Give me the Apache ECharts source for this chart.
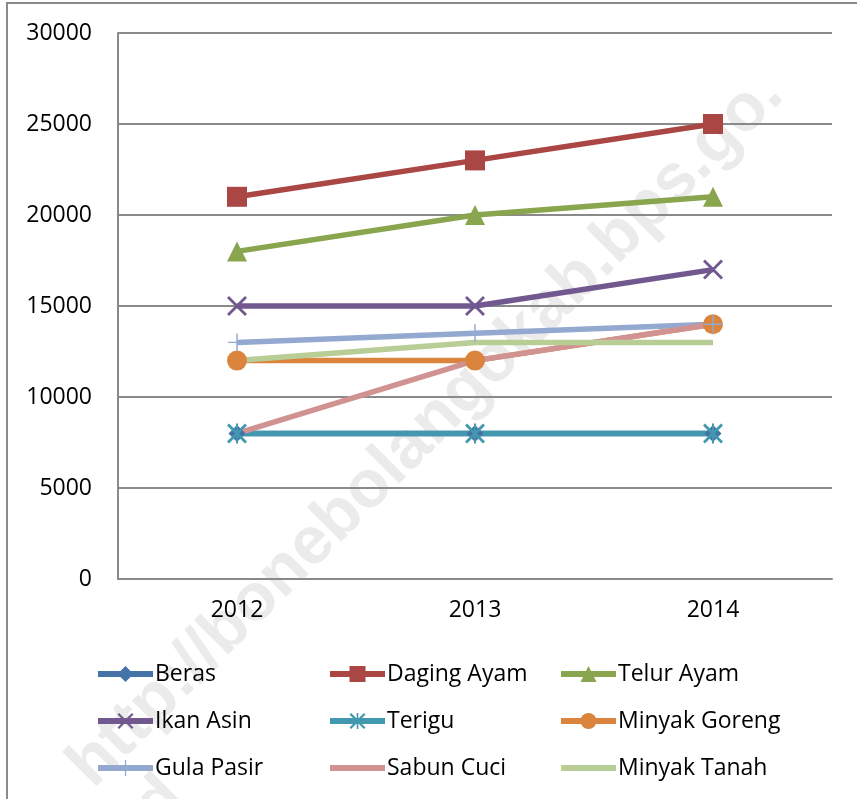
<!DOCTYPE html>
<html>
<head>
<meta charset="utf-8">
<script src="https://cdn.jsdelivr.net/npm/echarts@6/dist/echarts.min.js"></script>
<style>
  html, body { margin: 0; padding: 0; background: #fff; }
  #chart { width: 857px; height: 799px; }
</style>
</head>
<body>
<div id="chart"></div>
<script>
// data
const years = ['2012', '2013', '2014']
const beras = [8000, 8000, 8000]
const dagingAyam = [21000, 23000, 25000]
const telurAyam = [18000, 20000, 21000]
const ikanAsin = [15000, 15000, 17000]
const terigu = [8000, 8000, 8000]
const minyakGoreng = [12000, 12000, 14000]
const gulaPasir = [13000, 13500, 14000]
const sabunCuci = [8000, 12000, 14000]
const minyakTanah = [12000, 13000, 13000]

const FONT = '"Open Sans", sans-serif'

// custom marker shapes (Excel style x, asterisk, plus)
const X_PATH = 'path://M0,1L1,0L10,9L9,10ZM9,0L10,1L1,10L0,9Z'
const STAR_PATH = 'path://M0,1L1,0L10,9L9,10ZM9,0L10,1L1,10L0,9ZM4.5,0L5.5,0L5.5,10L4.5,10Z'
const PLUS_PATH = 'path://M4.6,0L5.4,0L5.4,10L4.6,10ZM0,4.6L10,4.6L10,5.4L0,5.4Z'

function mk(name, data, color, symbol, size) {
  return {
    name: name,
    type: 'line',
    data: data,
    symbol: symbol,
    symbolSize: size,
    showSymbol: symbol !== 'none',
    lineStyle: { color: color, width: 5.5 },
    itemStyle: { color: color },
    emphasis: { disabled: true },
  }
}

const seriesList = [
  mk('Beras', beras, '#4572A7', 'diamond', 17),
  mk('Daging Ayam', dagingAyam, '#AA4643', 'rect', 20),
  mk('Telur Ayam', telurAyam, '#89A54E', 'triangle', 20),
  mk('Ikan Asin', ikanAsin, '#71588F', X_PATH, 20),
  mk('Terigu', terigu, '#4198AF', STAR_PATH, 20),
  mk('Minyak Goreng', minyakGoreng, '#DB843D', 'circle', 20),
  mk('Gula Pasir', gulaPasir, '#93A9CF', PLUS_PATH, 18),
  mk('Sabun Cuci', sabunCuci, '#D19392', 'none', 0),
  mk('Minyak Tanah', minyakTanah, '#B9CD96', 'none', 0),
]

const noMarker = ['Sabun Cuci', 'Minyak Tanah']

function legendCol(left, names) {
  return {
    orient: 'vertical',
    left: left,
    top: 662,
    padding: 0,
    itemWidth: 55,
    itemHeight: 20,
    itemGap: 23,
    selectedMode: false,
    lineStyle: { width: 6 },
    data: names.map(n => noMarker.includes(n) ? { name: n, itemStyle: { opacity: 0 } } : n),
    textStyle: { fontFamily: FONT, fontSize: 23, color: '#000', lineHeight: 24, padding: [0, 0, 0, -3] },
  }
}

const chart = echarts.init(document.getElementById('chart'))
chart.setOption({
  animation: false,
  backgroundColor: '#fff',
  grid: { left: 118, right: 25, top: 33, bottom: 220 },
  xAxis: {
    type: 'category',
    data: years,
    boundaryGap: true,
    axisLine: { show: true, lineStyle: { color: '#8a8a8a', width: 2 } },
    axisTick: { show: false },
    axisLabel: { fontFamily: FONT, fontSize: 23, color: '#000', margin: 20 },
  },
  yAxis: {
    type: 'value',
    min: 0,
    max: 30000,
    interval: 5000,
    axisLine: { show: true, lineStyle: { color: '#8a8a8a', width: 2 } },
    axisTick: { show: false },
    splitLine: { lineStyle: { color: '#8a8a8a', width: 2 } },
    axisLabel: { fontFamily: FONT, fontSize: 23, color: '#000', margin: 26, formatter: v => String(v) },
  },
  legend: [
    legendCol(95, ['Beras', 'Ikan Asin', 'Gula Pasir']),
    legendCol(327, ['Daging Ayam', 'Terigu', 'Sabun Cuci']),
    legendCol(558, ['Telur Ayam', 'Minyak Goreng', 'Minyak Tanah']),
  ],
  graphic: [
    // outer chart border
    {
      type: 'rect',
      shape: { x: 7, y: 3, width: 880, height: 820 },
      style: { fill: 'none', stroke: '#8a8a8a', lineWidth: 2 },
      silent: true,
    },
    // watermark
    {
      type: 'text',
      x: 104, y: 800,
      rotation: Math.PI / 4,
      z: -10,
      silent: true,
      style: {
        text: 'http://bonebolangokab.bps.go.',
        fontFamily: '"Liberation Sans", sans-serif',
        fontWeight: 'bold',
        fontSize: 67,
        fill: '#ebebeb',
        textVerticalAlign: 'bottom',
      },
    },
    {
      type: 'text',
      x: 156, y: 854,
      rotation: Math.PI / 4,
      z: -10,
      silent: true,
      style: {
        text: 'id',
        fontFamily: '"Liberation Sans", sans-serif',
        fontWeight: 'bold',
        fontSize: 67,
        fill: '#ebebeb',
        textVerticalAlign: 'bottom',
      },
    },
  ],
  series: seriesList,
})
</script>
</body>
</html>
